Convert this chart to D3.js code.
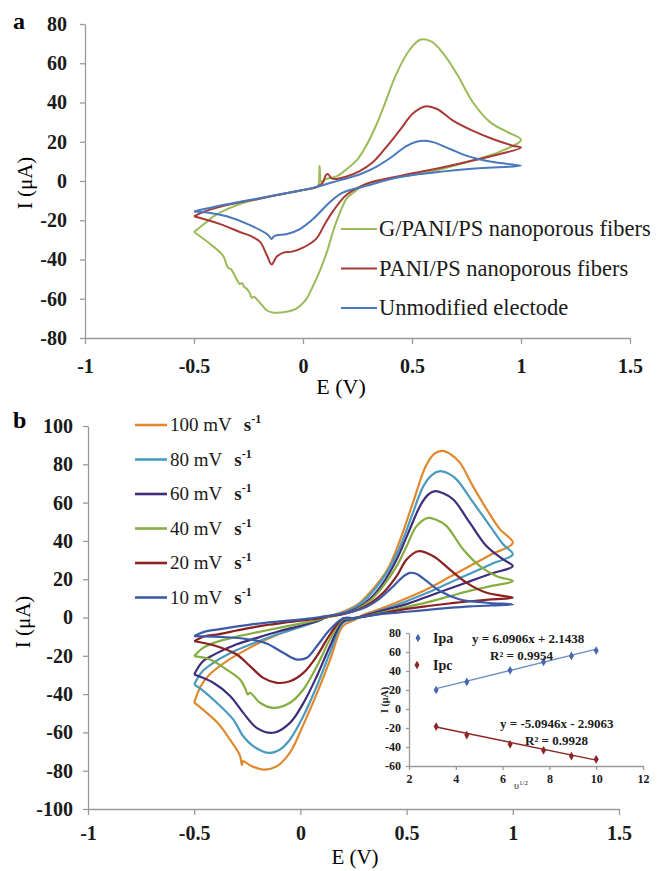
<!DOCTYPE html>
<html lang="en">
<head>
<meta charset="UTF-8">
<title>Cyclic voltammograms</title>
<script src="https://cdnjs.cloudflare.com/ajax/libs/d3/7.8.5/d3.min.js"></script>
<style>
    body { margin: 0; background: #fff; }
    svg { display: block; font-family: 'Liberation Serif', 'Times New Roman', serif; }
    .axis text { fill: #1a1a1a; font-weight: bold; }
    .curve { fill: none; stroke-linejoin: round; }
</style>
</head>
<body>
<svg id="chart" width="657" height="871"></svg>
<script>
// ---- data (panel a) ----
const potentialTicks = [-1, -0.5, 0, 0.5, 1, 1.5];
const currentTicksA = [-80, -60, -40, -20, 0, 20, 40, 60, 80];
const namesA = ["G/PANI/PS nanoporous fibers", "PANI/PS nanoporous fibers", "Unmodified electode"];
const colorsA = ["#9bbb59", "#a83a36", "#4a78bd"];

// [E (V), I (uA)]
const gPaniCurve = [
    [-0.5,-26],[-0.45,-21.5],[-0.41,-18],[-0.35,-14.5],[-0.29,-11.7],[-0.2,-9],[-0.1,-6.8],[0,-4.6],
    [0.06,-3.2],[0.07,-2.5],[0.076,7.8],[0.084,-0.5],[0.1,0.8],[0.156,2.5],[0.2,6],[0.25,11],[0.29,18],
    [0.33,27],[0.367,37],[0.43,55],[0.49,67],[0.537,72],[0.59,71],[0.643,65],[0.706,54.5],[0.78,40],
    [0.858,30],[0.936,25],[1.0,21],
    [0.904,15],[0.752,9.7],[0.596,5],[0.445,2],[0.29,-1.5],[0.23,-6],[0.2,-9],[0.17,-16],[0.14,-25],
    [0.11,-36],[0.08,-45],[0.046,-53.5],[0.01,-61],[-0.03,-65],[-0.07,-66.5],[-0.14,-67],[-0.165,-66],
    [-0.19,-63],[-0.21,-60.5],[-0.225,-59],[-0.235,-59.5],[-0.245,-57],[-0.257,-55],[-0.27,-54],
    [-0.28,-52],[-0.29,-52.5],[-0.305,-50],[-0.33,-45],[-0.345,-44],[-0.367,-38],[-0.427,-32],[-0.5,-26]
];
const paniCurve = [
    [-0.5,-18],[-0.45,-15.5],[-0.35,-12.3],[-0.2,-9],[-0.1,-6.7],[0,-4.6],[0.06,-3.2],[0.09,-1],
    [0.105,3],[0.115,3.5],[0.13,1.5],[0.15,1],[0.2,2.3],[0.26,5],[0.32,9.5],[0.38,17],[0.445,26],
    [0.505,34.5],[0.56,38],[0.615,36.7],[0.69,30.6],[0.78,25.5],[0.87,21.4],[0.963,18],[1.0,17],
    [0.904,13.8],[0.75,9.7],[0.6,6],[0.445,2.6],[0.29,-1.5],[0.2,-7],[0.14,-15],[0.1,-22],[0.06,-29.5],
    [0,-34],[-0.05,-36],[-0.09,-36.5],[-0.12,-38.5],[-0.144,-42.5],[-0.165,-38],[-0.197,-31],
    [-0.24,-28],[-0.29,-26],[-0.38,-22],[-0.5,-18]
];
const unmodCurve = [
    [-0.5,-15.5],[-0.4,-13],[-0.3,-10.8],[-0.2,-8.8],[-0.1,-6.7],[0,-4.6],[0.064,-3],[0.14,-0.5],
    [0.2,1.3],[0.27,3.8],[0.34,7.5],[0.41,12.5],[0.47,17.5],[0.52,20],[0.56,20.5],[0.6,19.7],[0.675,16.3],
    [0.752,12.8],[0.845,10.2],[0.936,8.7],[1.0,7.8],
    [0.75,6],[0.445,2],[0.29,-2.5],[0.18,-6],[0.124,-10.7],[0.046,-19.4],[-0.014,-24.5],[-0.073,-27],
    [-0.13,-28],[-0.145,-29.5],[-0.16,-27.5],[-0.243,-22.5],[-0.35,-18],[-0.44,-16],[-0.5,-15.5]
];

// ---- data (panel b) ----
const currentTicksB = [-100, -80, -60, -40, -20, 0, 20, 40, 60, 80, 100];
const rateLabels = ["100 mV", "80 mV", "60 mV", "40 mV", "20 mV", "10 mV"];
const colorsB = ["#e0892f", "#4a9bbd", "#3f2d7c", "#86ad3f", "#8c2121", "#3b5ba9"];

const rate100 = [
    [-0.5,-44.5],[-0.47,-36],[-0.43,-30],[-0.35,-23],[-0.25,-16.5],[-0.15,-11],[-0.05,-6.5],[0.05,-3],
    [0.1,-1],[0.12,0.2],[0.15,1.2],[0.2,3],[0.25,5.5],[0.28,7.7],[0.34,14.6],[0.41,25],[0.47,40.7],
    [0.53,60],[0.59,79],[0.63,85.5],[0.67,87],[0.71,85],[0.75,81],[0.81,69],[0.88,56],[0.94,46],[1.0,39],
    [0.9,33],[0.8,27],[0.7,21],[0.6,15],[0.5,10],[0.4,5.5],[0.3,1.5],[0.25,-1.5],[0.2,-4.5],[0.14,-22],
    [0.08,-39],[0.01,-57],[-0.05,-70.7],[-0.11,-77.6],[-0.175,-79.4],[-0.24,-77],[-0.27,-75],
    [-0.275,-77],[-0.285,-72],[-0.33,-64],[-0.39,-55],[-0.46,-48],[-0.5,-44.5]
];
const rate80 = [
    [-0.5,-35],[-0.46,-28],[-0.4,-23],[-0.3,-17],[-0.2,-12.5],[-0.1,-8.5],[0,-5],[0.08,-2],[0.12,0],
    [0.2,2.5],[0.26,5.5],[0.32,11],[0.406,23.3],[0.47,37.2],[0.524,52.9],[0.579,68.6],[0.62,74.5],
    [0.657,76.4],[0.7,75],[0.736,72],[0.814,60],[0.893,47.7],[0.955,38.1],[1.0,33],
    [0.9,28],[0.8,23],[0.7,18],[0.6,13],[0.5,8.5],[0.4,4.5],[0.3,1],[0.25,-1],[0.2,-2.8],[0.139,-18.4],
    [0.077,-35.9],[0.014,-51.5],[-0.049,-63.7],[-0.096,-68.9],[-0.151,-70.7],[-0.222,-67.2],
    [-0.269,-62],[-0.316,-53.3],[-0.394,-44.5],[-0.46,-38],[-0.5,-35]
];
const rate60 = [
    [-0.5,-29.8],[-0.46,-23],[-0.4,-19],[-0.3,-14],[-0.2,-10.5],[-0.1,-7.2],[0,-4.3],[0.08,-1.8],
    [0.12,0],[0.2,2],[0.27,5],[0.33,10],[0.39,18.1],[0.453,30.3],[0.508,44.2],[0.563,58.1],[0.6,64],
    [0.634,66],[0.67,65],[0.72,61.6],[0.798,49.4],[0.877,37.2],[0.955,30.3],[1.0,26.8],
    [0.9,23],[0.8,19],[0.7,15],[0.6,11],[0.5,7],[0.4,4],[0.3,1],[0.25,-0.8],[0.2,-2],[0.139,-15],
    [0.077,-30.7],[0.014,-44.7],[-0.049,-55],[-0.128,-60.2],[-0.206,-57.6],[-0.269,-49.8],
    [-0.331,-41],[-0.41,-34.1],[-0.5,-29.8]
];
const rate40 = [
    [-0.5,-20.2],[-0.46,-16],[-0.4,-13],[-0.3,-10],[-0.2,-7.6],[-0.1,-5.4],[0,-3.2],[0.08,-1.3],
    [0.12,0],[0.2,1.8],[0.27,4.5],[0.33,9],[0.39,16.4],[0.453,26.8],[0.5,37.2],[0.547,47.7],
    [0.602,52],[0.64,51],[0.688,47.7],[0.767,35.5],[0.845,26.8],[0.924,21.6],[1.0,19],
    [0.9,16.5],[0.8,14],[0.7,11],[0.6,8],[0.5,5.5],[0.4,3],[0.3,0.5],[0.25,-0.5],[0.2,-1],[0.139,-11.5],
    [0.077,-25.6],[0.014,-37.6],[-0.049,-44.5],[-0.128,-47.2],[-0.19,-44.5],[-0.237,-39.3],
    [-0.248,-40.2],[-0.258,-37.5],[-0.284,-32.4],[-0.347,-27.2],[-0.426,-21.9],[-0.5,-20.2]
];
const rate20 = [
    [-0.5,-12.4],[-0.45,-9.8],[-0.394,-8.9],[-0.3,-6.8],[-0.237,-5.4],[-0.15,-3.8],[-0.081,-2.8],
    [0,-1.6],[0.08,-0.6],[0.12,0.4],[0.2,1.8],[0.27,4],[0.33,7.5],[0.39,12.9],[0.453,21.6],[0.5,30.3],
    [0.555,34.6],[0.626,32],[0.704,25],[0.783,18.1],[0.877,12.9],[1.0,10.3],
    [0.9,9.5],[0.8,8.5],[0.7,7.3],[0.6,6],[0.5,4.5],[0.4,2.5],[0.3,0.5],[0.25,-0.3],[0.2,-0.5],
    [0.139,-8.9],[0.077,-20.2],[0.014,-28.9],[-0.049,-33.3],[-0.111,-34.1],[-0.175,-31.5],
    [-0.237,-25.4],[-0.3,-19.3],[-0.394,-15],[-0.5,-12.4]
];
const rate10 = [
    [-0.5,-9.7],[-0.45,-7.4],[-0.394,-6.3],[-0.237,-3.7],[-0.081,-1.9],[0.05,-0.5],[0.12,0.7],
    [0.2,2],[0.26,3.5],[0.312,5.6],[0.37,9.6],[0.43,15.5],[0.48,21],[0.515,23.3],[0.545,22.8],[0.59,19.4],
    [0.657,13.8],[0.751,9.4],[0.877,7.7],[1.0,6.8],
    [0.9,6.3],[0.8,5.8],[0.7,5.0],[0.6,4],[0.5,3],[0.4,2],[0.3,0.5],[0.25,-0.3],[0.2,-0.5],
    [0.139,-6.3],[0.077,-15],[0.03,-21],[-0.018,-21.9],[-0.081,-18.4],[-0.159,-13.6],[-0.237,-11.5],
    [-0.35,-10.3],[-0.5,-9.7]
];

// ---- data (inset) ----
const sqrtRate = [3.16, 4.47, 6.32, 7.75, 8.94, 10];
const ipaValues = [20, 28.5, 40.7, 49.5, 55.8, 61.5];
const ipcValues = [-18.5, -27.4, -37.2, -43.5, -49.5, -53];
const ipaFit = [6.0906, 2.1438];
const ipcFit = [-5.0946, -2.9063];
const insetXTicks = [2, 4, 6, 8, 10, 12];
const insetYTicks = [-60, -40, -20, 0, 20, 40, 60, 80];

const svg = d3.select("#chart");
const fmt = d => String(d);

function styleAxis(g, size) {
    g.attr("font-family", null).attr("font-size", size).attr("color", "#9a9a9a");
    g.select(".domain").attr("stroke-width", 1.3);
    g.selectAll(".tick line").attr("stroke-width", 1.3);
}

function drawCurves(curves, colors, x, y, width) {
    const line = d3.line()
        .x(d => x(d[0]))
        .y(d => y(d[1]))
        .curve(d3.curveCatmullRom.alpha(0.5));
    svg.append("g").selectAll("path")
        .data(curves)
        .join("path")
        .attr("class", "curve")
        .attr("d", line)
        .attr("stroke", (d, i) => colors[i])
        .attr("stroke-width", width);
}

// ================= Panel a =================
const xA = d3.scaleLinear().domain([-1, 1.5]).range([85, 630]);
const yA = d3.scaleLinear().domain([-80, 80]).range([338, 24]);

svg.append("g").attr("class", "axis")
    .attr("transform", `translate(0,${yA(-80)})`)
    .call(d3.axisBottom(xA).tickValues(potentialTicks).tickFormat(fmt).tickSize(6).tickSizeOuter(0).tickPadding(15))
    .call(g => styleAxis(g, 20));
svg.append("g").attr("class", "axis")
    .attr("transform", `translate(${xA(-1)},0)`)
    .call(d3.axisLeft(yA).tickValues(currentTicksA).tickFormat(fmt).tickSize(5).tickSizeOuter(0).tickPadding(13))
    .call(g => styleAxis(g, 20));

drawCurves([gPaniCurve, paniCurve, unmodCurve], colorsA, xA, yA, 2);

const legA = svg.append("g");
namesA.forEach((name, i) => {
    const yy = 229 + i * 39.5;
    legA.append("line").attr("x1", 341).attr("x2", 377).attr("y1", yy).attr("y2", yy)
        .attr("stroke", colorsA[i]).attr("stroke-width", 2);
    legA.append("text").attr("x", 379).attr("y", yy + 7).attr("font-size", 22.5).attr("fill", "#1a1a1a")
        .text(name);
});

svg.append("text").attr("x", 13).attr("y", 29).attr("font-size", 24).attr("font-weight", "bold").text("a");
svg.append("text").attr("transform", "translate(32,183) rotate(-90)")
    .attr("text-anchor", "middle").attr("font-size", 21).text("I (μA)");
svg.append("text").attr("x", 341).attr("y", 394).attr("text-anchor", "middle")
    .attr("font-size", 22).text("E (V)");

// ================= Panel b =================
const xB = d3.scaleLinear().domain([-1, 1.5]).range([88, 619]);
const yB = d3.scaleLinear().domain([-100, 100]).range([809, 426]);

svg.append("g").attr("class", "axis")
    .attr("transform", `translate(0,${yB(-100)})`)
    .call(d3.axisBottom(xB).tickValues(potentialTicks).tickFormat(fmt).tickSize(6).tickSizeOuter(0).tickPadding(11))
    .call(g => styleAxis(g, 20));
svg.append("g").attr("class", "axis")
    .attr("transform", `translate(${xB(-1)},0)`)
    .call(d3.axisLeft(yB).tickValues(currentTicksB).tickFormat(fmt).tickSize(5).tickSizeOuter(0).tickPadding(10))
    .call(g => styleAxis(g, 20));

drawCurves([rate100, rate80, rate60, rate40, rate20, rate10], colorsB, xB, yB, 2.2);

const legB = svg.append("g");
rateLabels.forEach((label, i) => {
    const yy = 425 + i * 34.5;
    legB.append("line").attr("x1", 135).attr("x2", 167).attr("y1", yy).attr("y2", yy)
        .attr("stroke", colorsB[i]).attr("stroke-width", 2.6);
    const t = legB.append("text").attr("x", 170).attr("y", yy + 6).attr("font-size", 19).attr("fill", "#1a1a1a");
    t.append("tspan").text(label);
    t.append("tspan").attr("dx", 12).attr("font-weight", "bold").text("s");
    t.append("tspan").attr("dy", -8).attr("font-size", 12).attr("font-weight", "bold").text("-1");
});

svg.append("text").attr("x", 13).attr("y", 428).attr("font-size", 24).attr("font-weight", "bold").text("b");
svg.append("text").attr("transform", "translate(30,622) rotate(-90)")
    .attr("text-anchor", "middle").attr("font-size", 21).text("I (μA)");
svg.append("text").attr("x", 355).attr("y", 864).attr("text-anchor", "middle")
    .attr("font-size", 21).text("E (V)");

// ================= Inset =================
const xI = d3.scaleLinear().domain([2, 12]).range([409, 643]);
const yI = d3.scaleLinear().domain([-60, 80]).range([766, 633]);

svg.append("g").attr("class", "axis")
    .attr("transform", `translate(0,${yI(-60)})`)
    .call(d3.axisBottom(xI).tickValues(insetXTicks).tickFormat(fmt).tickSize(4).tickSizeOuter(0).tickPadding(4))
    .call(g => styleAxis(g, 12));
svg.append("g").attr("class", "axis")
    .attr("transform", `translate(${xI(2)},0)`)
    .call(d3.axisLeft(yI).tickValues(insetYTicks).tickFormat(fmt).tickSize(3).tickSizeOuter(0).tickPadding(5))
    .call(g => styleAxis(g, 12));

const insetSeries = [
    { values: ipaValues, fit: ipaFit, point: "#4a66b0", line: "#6d8fc4" },
    { values: ipcValues, fit: ipcFit, point: "#8c2626", line: "#8c2626" }
];
const diamond = d3.symbol(d3.symbolDiamond, 22);
insetSeries.forEach(s => {
    const x0 = sqrtRate[0], x1 = sqrtRate[sqrtRate.length - 1];
    svg.append("line")
        .attr("x1", xI(x0)).attr("y1", yI(s.fit[0] * x0 + s.fit[1]))
        .attr("x2", xI(x1)).attr("y2", yI(s.fit[0] * x1 + s.fit[1]))
        .attr("stroke", s.line).attr("stroke-width", 1.4);
    svg.append("g").selectAll("path")
        .data(s.values)
        .join("path")
        .attr("d", diamond)
        .attr("transform", (d, i) => `translate(${xI(sqrtRate[i])},${yI(d)})`)
        .attr("fill", s.point);
});

const insetText = svg.append("g").attr("font-weight", "bold").attr("fill", "#1a1a1a");
insetText.append("path").attr("d", diamond).attr("transform", "translate(418,638)").attr("fill", "#4a66b0");
insetText.append("path").attr("d", diamond).attr("transform", "translate(417,665)").attr("fill", "#8c2626");
insetText.append("text").attr("x", 433).attr("y", 643).attr("font-size", 14).text("Ipa");
insetText.append("text").attr("x", 433).attr("y", 670).attr("font-size", 14).text("Ipc");
insetText.append("text").attr("x", 472).attr("y", 643).attr("font-size", 13).text("y = 6.0906x + 2.1438");
insetText.append("text").attr("x", 490).attr("y", 660).attr("font-size", 13).text("R² = 0.9954");
insetText.append("text").attr("x", 500).attr("y", 728).attr("font-size", 13).text("y = -5.0946x - 2.9063");
insetText.append("text").attr("x", 525).attr("y", 745).attr("font-size", 13).text("R² = 0.9928");
insetText.append("text").attr("transform", "translate(388,700) rotate(-90)")
    .attr("text-anchor", "middle").attr("font-size", 10).text("I (μA)");
const ups = insetText.append("text").attr("x", 514).attr("y", 789).attr("font-size", 10).attr("font-weight", "normal");
ups.append("tspan").text("υ");
ups.append("tspan").attr("dy", -4).attr("font-size", 7).text("1/2");
</script>
</body>
</html>
